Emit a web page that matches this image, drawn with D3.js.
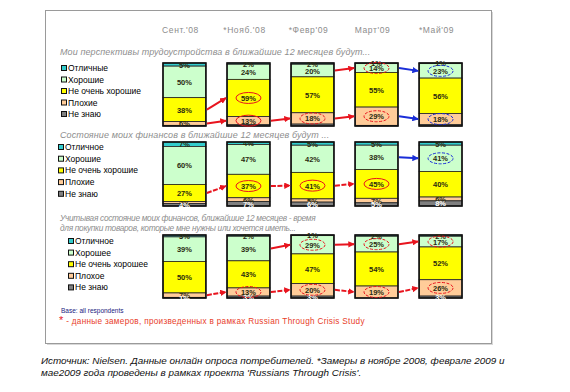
<!DOCTYPE html>
<html>
<head>
<meta charset="utf-8">
<script src="https://cdn.jsdelivr.net/npm/d3@7"></script>
<style>
  body { margin: 0; background: #fff; }
  svg { display: block; font-family: "Liberation Sans", Arial, sans-serif; }
</style>
</head>
<body>
<div id="chartContainer"></div>
<script>
// periods (columns)
const periods = ["Сент.'08", "*Нояб.'08", "*Февр'09", "Март'09", "*Май'09"]

// panel 1: job prospects, one row per answer, values per period
const jobTitle = ["Мои перспективы трудоустройства в ближайшие 12 месяцев будут..."]
const jobLabels = ["Отличные", "Хорошие", "Не очень хорошие", "Плохие", "Не знаю"]
const jobValues = [
  [5, 2, 2, 1, 1],
  [50, 24, 20, 14, 23],
  [38, 59, 57, 55, 56],
  [6, 13, 18, 29, 18],
  [1, 2, 3, 1, 2]
]
const jobArrows = [
  {s: 2, from: 0, c: "red"}, {s: 3, from: 0, c: "red"}, {s: 3, from: 1, c: "red"},
  {s: 1, from: 2, c: "red"}, {s: 3, from: 2, c: "red"},
  {s: 1, from: 3, c: "blue"}, {s: 3, from: 3, c: "blue"}
]
const jobRings = [
  {s: 2, p: 1, c: "red"}, {s: 3, p: 1, c: "red"}, {s: 3, p: 2, c: "red", dash: true},
  {s: 1, p: 3, c: "red", dash: true}, {s: 3, p: 3, c: "red", dash: true},
  {s: 1, p: 4, c: "blue", dash: true}, {s: 3, p: 4, c: "blue", dash: true}
]

// panel 2: personal finances
const finTitle = ["Состояние моих финансов в ближайшие 12 месяцев будут ..."]
const finLabels = ["Отличное", "Хорошие", "Не очень хорошие", "Плохие", "Не знаю"]
const finValues = [
  [7, 4, 5, 5, 5],
  [60, 47, 42, 38, 41],
  [27, 37, 41, 45, 40],
  [3, 6, 5, 7, 6],
  [4, 7, 6, 5, 8]
]
const finArrows = [
  {s: 2, from: 0, c: "red", dash: true}, {s: 2, from: 1, c: "red", dash: true},
  {s: 2, from: 2, c: "red", dash: true}, {s: 1, from: 3, c: "blue"}
]
const finRings = [
  {s: 2, p: 1, c: "red"}, {s: 2, p: 2, c: "red"}, {s: 2, p: 3, c: "red"},
  {s: 1, p: 4, c: "blue", dash: true}
]

// panel 3: time to buy
const buyTitle = ["Учитывая состояние моих финансов, ближайшие 12 месяцев  - время",
  "для покупки товаров, которые мне нужны или хочется иметь..."]
const buyLabels = ["Отличное", "Хорошее", "Не очень хорошее", "Плохое", "Не знаю"]
const buyValues = [
  [3, 2, 1, 2, 2],
  [39, 39, 29, 25, 17],
  [50, 43, 47, 54, 52],
  [7, 13, 20, 19, 26],
  [1, 3, 3, 0, 3]
]
const buyArrows = [
  {s: 3, from: 0, c: "red", dash: true}, {s: 3, from: 1, c: "red", dash: true},
  {s: 3, from: 2, c: "red", dash: true}, {s: 3, from: 3, c: "red", dash: true},
  {s: 1, from: 1, c: "red"}, {s: 1, from: 2, c: "red"}, {s: 1, from: 3, c: "red"}
]
const buyRings = [
  {s: 3, p: 1, c: "red", dash: true}, {s: 3, p: 2, c: "red", dash: true},
  {s: 3, p: 3, c: "red", dash: true}, {s: 3, p: 4, c: "red", dash: true},
  {s: 1, p: 2, c: "red", dash: true}, {s: 1, p: 3, c: "red", dash: true},
  {s: 1, p: 4, c: "red", dash: true}
]

const width = 570, height = 392

const color = d3.scaleOrdinal()
    .domain(d3.range(5))
    .range(["#33cccc", "#ccffcc", "#ffff00", "#ffcc99", "#808080"])

const strokeColor = {red: "#e8141e", blue: "#1a2ed8"}

const x = d3.scaleBand()
    .domain(periods)
    .range([163, 462])
    .paddingInner(0.33)

const svg = d3.select('#chartContainer')
  .append('svg')
  .attr('width', width)
  .attr('height', height)

const defs = svg.append("defs")
Object.entries(strokeColor).forEach(([k, c]) => {
  defs.append("marker")
      .attr("id", "head-" + k)
      .attr("viewBox", "0 0 10 10")
      .attr("refX", 9).attr("refY", 5)
      .attr("markerWidth", 3.2).attr("markerHeight", 3.2)
      .attr("orient", "auto")
    .append("path")
      .attr("d", "M0,0L10,5L0,10z")
      .attr("fill", c)
})

// frame
svg.append("rect")
    .attr("x", 47).attr("y", 12).attr("width", 446).attr("height", 333)
    .attr("fill", "#d8d8d8")
svg.append("rect")
    .attr("x", 45.5).attr("y", 10.5).attr("width", 446).attr("height", 333)
    .attr("fill", "#fff").attr("stroke", "#9a9a9a")

// column headers
svg.append("g")
  .selectAll("text")
  .data(periods)
  .join("text")
    .attr("x", d => x(d) + x.bandwidth() / 2 - 4)
    .attr("y", 33)
    .attr("text-anchor", "middle")
    .attr("font-size", 8.5)
    .attr("letter-spacing", 0.6)
    .attr("fill", "#8c8c8c")
    .text(d => d)

function panel(cfg) {
  const {title, titleY, titleSize, titleSpacing, labels, values, arrows, rings,
    top, bottom, legendX, legendY, legendStep, greyLabels} = cfg

  const y = d3.scaleLinear().domain([0, 1]).range([top, bottom])

  const rows = periods.map((p, j) => {
    const r = {period: p}
    values.forEach((v, i) => r[i] = v[j])
    return r
  })
  const stack = d3.stack()
      .keys(d3.range(values.length))
      .offset(d3.stackOffsetExpand)
  const series = stack(rows)
  const mid = (s, p) => y((series[s][p][0] + series[s][p][1]) / 2)

  const g = svg.append("g")

  g.selectAll("text.title")
    .data(title)
    .join("text")
      .attr("x", 60)
      .attr("y", (d, i) => titleY + i * 10)
      .attr("font-size", titleSize)
      .attr("font-style", "italic")
      .attr("letter-spacing", titleSpacing)
      .attr("fill", "#8e8e8e")
      .text(d => d)

  // legend
  const leg = g.append("g")
    .selectAll("g")
    .data(labels)
    .join("g")
      .attr("transform", (d, i) => `translate(${legendX},${legendY + i * legendStep})`)
  leg.append("rect")
      .attr("x", 0.5).attr("y", -5.5).attr("width", 5).attr("height", 5)
      .attr("fill", (d, i) => color(i))
      .attr("stroke", "#111")
  leg.append("text")
      .attr("x", 7)
      .attr("y", 0)
      .attr("font-size", 8.5)
      .attr("fill", "#000")
      .text(d => d)

  // bars
  const serie = g.append("g")
    .selectAll("g")
    .data(series)
    .join("g")
      .attr("fill", d => color(d.key))

  serie.selectAll("rect")
    .data(d => d)
    .join("rect")
      .attr("x", d => x(d.data.period))
      .attr("y", d => y(d[0]))
      .attr("width", x.bandwidth())
      .attr("height", d => y(d[1]) - y(d[0]))
      .attr("stroke", "#222")
      .attr("stroke-width", 0.8)

  g.append("g")
    .selectAll("rect")
    .data(periods)
    .join("rect")
      .attr("x", d => x(d))
      .attr("y", top)
      .attr("width", x.bandwidth())
      .attr("height", bottom - top)
      .attr("fill", "none")
      .attr("stroke", "#111")
      .attr("stroke-width", 1.6)

  // change arrows
  g.append("g")
    .selectAll("line")
    .data(arrows)
    .join("line")
      .attr("x1", d => x(periods[d.from]) + x.bandwidth() + 1)
      .attr("y1", d => mid(d.s, d.from))
      .attr("x2", d => x(periods[d.from + 1]) - 1)
      .attr("y2", d => mid(d.s, d.from + 1))
      .attr("stroke", d => strokeColor[d.c])
      .attr("stroke-width", 2)
      .attr("stroke-dasharray", d => d.dash ? "5,1.5" : null)
      .attr("marker-end", d => `url(#head-${d.c})`)

  // value labels, on top of every segment
  const cells = series.flatMap(s => s.map(v => ({v, key: s.key})))
    .filter(d => d.v.data[d.key] > 0 && (greyLabels || d.key !== 4))
  g.append("g")
    .selectAll("text")
    .data(cells)
    .join("text")
      .attr("x", d => x(d.v.data.period) + x.bandwidth() / 2)
      .attr("y", d => y((d.v[0] + d.v[1]) / 2) + 3)
      .attr("text-anchor", "middle")
      .attr("font-size", 7.5)
      .attr("font-weight", "bold")
      .attr("fill", d => d.key === 4 ? "#fff" : "#2a2a10")
      .text(d => d.v.data[d.key] + "%")

  // highlight rings
  g.append("g")
    .selectAll("ellipse")
    .data(rings)
    .join("ellipse")
      .attr("cx", d => x(periods[d.p]) + x.bandwidth() / 2)
      .attr("cy", d => mid(d.s, d.p))
      .attr("rx", 12.5)
      .attr("ry", 5.5)
      .attr("fill", "none")
      .attr("stroke", d => strokeColor[d.c])
      .attr("stroke-width", 1)
      .attr("stroke-dasharray", d => d.dash ? "3,1.5" : null)
}

panel({title: jobTitle, titleY: 55, titleSize: 9, titleSpacing: 0.1,
  labels: jobLabels, values: jobValues, arrows: jobArrows, rings: jobRings,
  top: 63, bottom: 126, legendX: 61, legendY: 71, legendStep: 11.5, greyLabels: false})

panel({title: finTitle, titleY: 138, titleSize: 9, titleSpacing: 0.12,
  labels: finLabels, values: finValues, arrows: finArrows, rings: finRings,
  top: 142, bottom: 206, legendX: 58, legendY: 150, legendStep: 11.7, greyLabels: true})

panel({title: buyTitle, titleY: 221, titleSize: 8.3, titleSpacing: -0.3,
  labels: buyLabels, values: buyValues, arrows: buyArrows, rings: buyRings,
  top: 235, bottom: 298, legendX: 68, legendY: 244, legendStep: 11.6, greyLabels: true})

// notes inside frame
svg.append("text")
    .attr("x", 61).attr("y", 313)
    .attr("font-size", 6.5)
    .attr("fill", "#1a1a80")
    .text("Base: all respondents")

const note = svg.append("text")
    .attr("x", 59).attr("y", 324)
    .attr("font-size", 8.2)
    .attr("letter-spacing", 0.3)
    .attr("fill", "#e8402a")
note.append("tspan").attr("font-size", 11).attr("fill", "#e8141e").text("*")
note.append("tspan").text(" - данные замеров, произведенных в рамках  Russian Through Crisis Study")

// source note below
const src = ["Источник: Nielsen. Данные онлайн опроса потребителей. *Замеры в ноябре 2008, феврале 2009 и",
  "мае2009 года проведены в рамках проекта 'Russians Through Crisis'."]
svg.append("g")
  .selectAll("text")
  .data(src)
  .join("text")
    .attr("x", 41)
    .attr("y", (d, i) => 364 + i * 11.5)
    .attr("font-size", 9.9)
    .attr("font-style", "italic")
    .attr("fill", "#111")
    .text(d => d)
</script>
</body>
</html>
